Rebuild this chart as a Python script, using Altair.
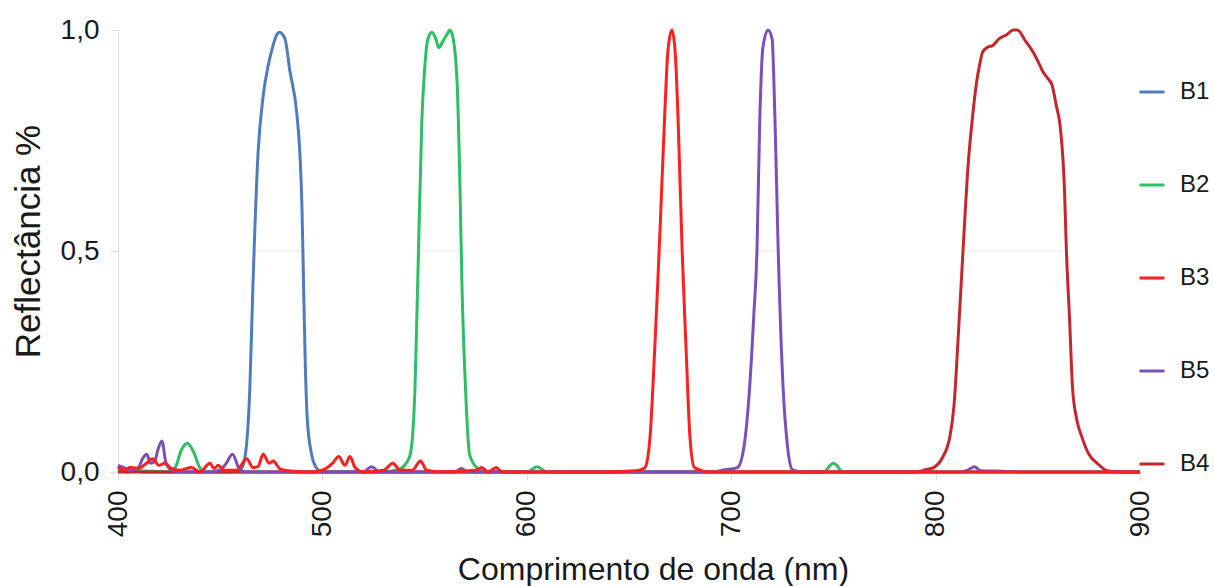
import altair as alt
import pandas as pd

# ---- data ----
series_order = ["B1", "B2", "B3", "B5", "B4"]
series_colors = ["#4f7cba", "#2cbf64", "#ff1f1f", "#7d4fb6", "#c3272c"]
draw_order = ["B1", "B2", "B4", "B5", "B3"]

B1_nm = [400, 403, 406, 409, 412, 416, 420, 430, 445, 455,
         460, 462, 464.5, 466, 468.5, 471, 473.5, 475, 477.8, 479,
         481.7, 484, 487.5, 489, 490, 490.8, 491.6, 492.6, 494.7, 497,
         500, 600, 700, 800, 900]
B1_val = [0.012, 0.005, 0.01, 0.003, 0, 0, 0, 0, 0, 0,
          0.005, 0.03, 0.19, 0.42, 0.72, 0.85, 0.92, 0.95, 0.99, 0.995,
          0.98, 0.91, 0.81, 0.72, 0.6, 0.42, 0.25, 0.12, 0.04, 0.01,
          0, 0, 0, 0, 0]

B2_nm = [400, 405, 410, 425, 428, 431, 434, 437, 440, 443,
         530, 537, 541, 543, 545.3, 547, 548.7, 550, 551.6, 553.6,
         555.5, 557, 559, 561, 562.4, 564, 566, 567.3, 568.3, 570,
         572, 575.5, 580, 600, 605, 610, 700, 745, 750, 755,
         900]
B2_val = [0.005, 0, 0.003, 0, 0.01, 0.05, 0.065, 0.045, 0.01, 0,
          0, 0.005, 0.02, 0.04, 0.19, 0.5, 0.8, 0.91, 0.98, 0.995,
          0.98, 0.96, 0.975, 0.99, 1.0, 0.98, 0.87, 0.645, 0.42, 0.19,
          0.04, 0.01, 0, 0, 0.012, 0, 0, 0, 0.02, 0,
          0]

B3_nm = [400, 403, 406, 410, 414, 417, 420, 423, 426, 430,
         436, 440, 445, 447, 449, 452, 458, 463, 466, 468.5,
         471, 474, 476, 479, 483, 495, 500, 505, 508, 511,
         513.5, 516, 520, 530, 534.5, 538, 544, 548, 551, 558,
         575, 578, 581, 585, 588, 595, 640, 650, 655, 657.8,
         660.3, 662.5, 664, 665.2, 667.4, 669, 671, 672.6, 674, 676,
         678, 679.8, 682, 690, 900]
B3_val = [0.01, 0.004, 0.01, 0.008, 0.02, 0.03, 0.015, 0.02, 0.008, 0.004,
          0.01, 0, 0.02, 0.008, 0.015, 0.004, 0.004, 0.03, 0.01, 0.012,
          0.04, 0.02, 0.025, 0.008, 0.003, 0, 0.004, 0.02, 0.035, 0.015,
          0.035, 0.01, 0, 0.004, 0.02, 0.004, 0.004, 0.025, 0.004, 0,
          0.004, 0.01, 0, 0.01, 0, 0, 0, 0.002, 0.004, 0.01,
          0.08, 0.27, 0.42, 0.55, 0.8, 0.95, 1.0, 0.95, 0.8, 0.5,
          0.27, 0.08, 0.01, 0, 0]

B5_nm = [400, 403, 406, 410, 412, 414, 416, 418, 419.5, 421.5,
         423.5, 426, 430, 445, 450, 453, 456, 459, 462, 520,
         524, 528, 565, 568, 571, 690, 697, 703, 706, 709,
         711, 712.6, 714, 715.5, 718, 720, 721.4, 723, 725.4, 727.5,
         730, 735, 812, 816, 819, 822, 830, 845, 900]
B5_val = [0.015, 0.01, 0.004, 0.01, 0.03, 0.04, 0.02, 0.025, 0.05, 0.07,
          0.02, 0.005, 0, 0, 0.005, 0.02, 0.04, 0.01, 0, 0,
          0.012, 0, 0, 0.008, 0, 0, 0.005, 0.01, 0.05, 0.19,
          0.35, 0.5, 0.8, 0.96, 1.0, 0.98, 0.8, 0.5, 0.19, 0.06,
          0.005, 0, 0, 0.005, 0.012, 0.003, 0.002, 0, 0]

B4_nm = [400, 790, 795, 799, 803, 807, 809, 811, 813.4, 816,
         818, 820, 821.7, 823, 825, 828, 831, 835, 838, 840,
         844, 847.7, 850, 852.6, 855, 857, 859, 861, 863, 864,
         865.5, 867, 869, 871.5, 875, 879, 884, 890, 900]
B4_val = [0, 0, 0.005, 0.01, 0.03, 0.08, 0.15, 0.3, 0.5, 0.7,
          0.8, 0.88, 0.925, 0.95, 0.96, 0.965, 0.98, 0.99, 1.0, 1.0,
          0.975, 0.95, 0.93, 0.905, 0.89, 0.875, 0.83, 0.78, 0.645, 0.5,
          0.35, 0.19, 0.12, 0.08, 0.04, 0.02, 0.003, 0, 0]

# faint half-maximum marker segments seen inside each band
half_lo = [468.5, 549, 665.5, 713, 815]
half_hi = [490, 567, 675, 722, 862]

x_ticks = [400, 500, 600, 700, 800, 900]
y_ticks = [0, 0.5, 1.0]

# ---- build tables ----
series = {
    "B1": (B1_nm, B1_val), "B2": (B2_nm, B2_val), "B3": (B3_nm, B3_val),
    "B5": (B5_nm, B5_val), "B4": (B4_nm, B4_val),
}
rows = []
for name, (nm, val) in series.items():
    for a, b in zip(nm, val):
        rows.append({"nm": a, "r": b, "band": name})
df = pd.DataFrame(rows)

half_df = pd.DataFrame({"lo": half_lo, "hi": half_hi, "y": [0.5] * len(half_lo)})

x_scale = alt.Scale(domain=[400, 900], nice=False, zero=False)
y_scale = alt.Scale(domain=[0, 1], nice=False)
color_scale = alt.Scale(domain=series_order, range=series_colors)

x_axis = alt.Axis(
    values=x_ticks, labelAngle=270, labelFontSize=28, labelColor="#1a1a1a",
    labelFont="Liberation Sans", labelPadding=10,
    title="Comprimento de onda (nm)", titleFontSize=32, titleFont="Liberation Sans",
    titleFontWeight="normal", titleColor="#1a1a1a", titlePadding=18,
    titleX=535,
    grid=False, domainColor="#dddddd", tickColor="#dddddd", tickSize=8,
)
y_axis = alt.Axis(
    values=y_ticks, labelExpr="replace(format(datum.value, '.1f'), '.', ',')",
    labelFontSize=28, labelColor="#1a1a1a", labelFont="Liberation Sans", labelPadding=11,
    title="Reflectância %", titleFontSize=35, titleFont="Liberation Sans",
    titleFontWeight="normal", titleColor="#1a1a1a", titlePadding=14,
    titleY=211,
    grid=False, domainColor="#dddddd", tickColor="#dddddd", tickSize=8,
)

ghost_h = alt.Chart(half_df).mark_rule(color="#ececec", strokeWidth=1.5).encode(
    x=alt.X("lo:Q", scale=x_scale, axis=x_axis),
    x2="hi:Q",
    y=alt.Y("y:Q", scale=y_scale, axis=y_axis),
)

layers = [ghost_h]
for name in draw_order:
    layers.append(
        alt.Chart(df).transform_filter(alt.datum.band == name)
        .mark_line(interpolate="monotone", strokeWidth=3)
        .encode(
            x=alt.X("nm:Q", scale=x_scale, axis=x_axis),
            y=alt.Y("r:Q", scale=y_scale, axis=y_axis),
            color=alt.Color(
                "band:N", scale=color_scale,
                legend=alt.Legend(
                    title=None, orient="none", legendX=1020, legendY=48,
                    symbolType="stroke", symbolSize=625, symbolStrokeWidth=3,
                    labelFontSize=24, labelFont="Liberation Sans", labelColor="#1a1a1a",
                    labelOffset=14, rowPadding=67, padding=0,
                ),
            ),
        )
    )

chart = alt.layer(*layers).properties(
    width=1022, height=442,
    autosize=alt.AutoSizeParams(type="none"),
    padding={"left": 118, "top": 30, "right": 74, "bottom": 114},
    background="white",
).configure_view(stroke=None)

chart.save("out.html", embed_options={"renderer": "svg", "actions": False})
